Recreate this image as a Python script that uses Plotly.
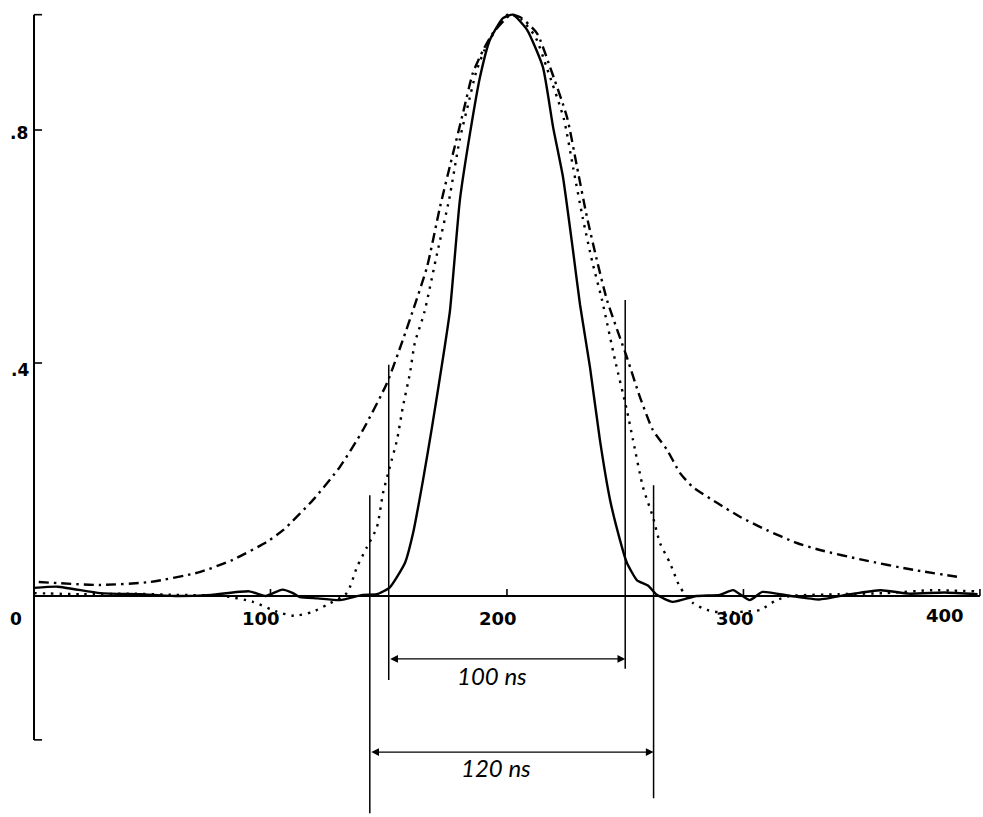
import plotly.graph_objects as go

# Time axis in ns, amplitude normalised to the peak
t_solid = [0, 10, 28, 45, 60, 75, 91, 98, 105, 109.5, 112.5, 120, 129.4, 139, 145,
           150.5, 156.9, 160.3, 164.5, 168.3, 173, 175.9, 180.1, 184.4, 188.6, 192.8,
           198.3, 202.5, 208.5, 215.2, 219.5, 223.7, 227.9, 230.9, 235.1, 239.3, 243.6,
           247.8, 250.7, 255, 259.6, 263.4, 270, 280, 290, 295.6, 302.7, 308, 320, 332,
           345, 358, 370, 385, 399]
v_solid = [0.014, 0.016, 0.005, 0.003, 0.0, 0.002, 0.008, 0.0, 0.011, 0.005, -0.002,
           -0.004, -0.007, 0.002, 0.003, 0.015, 0.057, 0.108, 0.199, 0.29, 0.41, 0.49,
           0.68, 0.795, 0.891, 0.955, 0.992, 0.998, 0.972, 0.908, 0.805, 0.719, 0.594,
           0.5, 0.393, 0.268, 0.165, 0.096, 0.057, 0.027, 0.018, 0.002, -0.01, 0.0,
           0.002, 0.01, -0.007, 0.007, 0.0, -0.006, 0.003, 0.01, 0.004, 0.006, 0.003]

t_dot = [0, 20, 40, 60, 80, 92.6, 102.7, 110, 118, 123.9, 132.3, 136.6, 140.8, 145,
         147.6, 150.5, 153.5, 156, 159, 161, 165, 170.5, 175.5, 180, 184, 187,
         190.5, 196, 201, 206, 212, 217, 224, 228, 232, 236, 240.2, 245.7, 250.7,
         253.3, 257.5, 261.7, 264.7, 268.9, 273.2, 278.6, 284.6, 290, 300, 307, 314,
         320, 340, 360, 380, 398]
v_dot = [0.005, 0.003, 0.004, 0.002, 0.0, -0.01, -0.027, -0.034, -0.027, -0.015, 0.005,
         0.05, 0.084, 0.118, 0.177, 0.222, 0.268, 0.325, 0.383, 0.434, 0.486, 0.589,
         0.68, 0.783, 0.851, 0.9, 0.937, 0.977, 1.0, 0.99, 0.96, 0.905, 0.82, 0.735,
         0.65, 0.575, 0.508, 0.405, 0.319, 0.268, 0.187, 0.136, 0.091, 0.057, 0.015,
         -0.012, -0.024, -0.028, -0.027, -0.024, -0.007, 0.0, 0.003, 0.005, 0.01, 0.008]

t_dd = [2, 28, 49, 70, 84, 98.5, 105.3, 118, 129.4, 139.1, 149.3, 156, 160.3, 166.2,
        171.7, 177.2, 181.4, 185.6, 189.9, 194, 201.3, 205.5, 212.7, 218.2, 225.4,
        229.6, 233.8, 238, 242.3, 250.7, 256.2, 261.7, 267.7, 273.2, 278.6, 288.8,
        298.5, 309.9, 322.6, 332.3, 350.5, 371.7, 390.3]
v_dd = [0.024, 0.019, 0.024, 0.041, 0.062, 0.093, 0.113, 0.165, 0.222, 0.285, 0.366,
        0.44, 0.491, 0.565, 0.668, 0.76, 0.829, 0.898, 0.937, 0.966, 0.997, 0.994,
        0.966, 0.908, 0.822, 0.737, 0.651, 0.577, 0.508, 0.41, 0.342, 0.285, 0.251,
        0.211, 0.187, 0.16, 0.136, 0.113, 0.091, 0.079, 0.062, 0.045, 0.033]

x_ticks = [100, 200, 300, 400]
x_tick_labels = ["100", "200", "300", "400"]
y_ticks = [0.8, 0.4, 0.0]
y_tick_labels = [".8", ".4", "0"]

# Pulse widths marked below the baseline: (start, width in ns)
widths = [(150, 100), (142, 120)]

INK = "black"

fig = go.Figure()
fig.add_trace(go.Scatter(x=t_dd, y=v_dd, mode="lines", line_shape="spline",
                         line=dict(color=INK, width=2.4, dash="10px,5px,2.5px,5px", smoothing=0.6)))
fig.add_trace(go.Scatter(x=t_dot, y=v_dot, mode="lines", line_shape="spline",
                         line=dict(color=INK, width=2.4, dash="2.4px,6px", smoothing=0.6)))
fig.add_trace(go.Scatter(x=t_solid, y=v_solid, mode="lines", line_shape="spline",
                         line=dict(color=INK, width=2.4, smoothing=0.5)))

shapes = []
# axes
shapes.append(dict(type="line", x0=0, x1=400, y0=0, y1=0, line=dict(color=INK, width=2)))
shapes.append(dict(type="line", x0=0, x1=0, y0=-0.247, y1=0.998, line=dict(color=INK, width=2)))
for yy in [0.998, -0.247] + y_ticks[:2]:
    shapes.append(dict(type="line", x0=0, x1=3.4, y0=yy, y1=yy, line=dict(color=INK, width=1.6)))
for xx in x_ticks:
    shapes.append(dict(type="line", x0=xx, x1=xx, y0=0, y1=0.012, line=dict(color=INK, width=1.6)))

# width markers
ext = {100: [(0.397, -0.144), (0.508, -0.125)], 120: [(0.173, -0.373), (0.19, -0.347)]}
arrow_y = {100: -0.108, 120: -0.268}
label_y = {100: -0.136, 120: -0.295}
annotations = []
for start, w in widths:
    (a0, a1), (b0, b1) = ext[w]
    shapes.append(dict(type="line", x0=start, x1=start, y0=a0, y1=a1, line=dict(color=INK, width=1.5)))
    shapes.append(dict(type="line", x0=start + w, x1=start + w, y0=b0, y1=b1, line=dict(color=INK, width=1.5)))
    annotations.append(dict(x=start + w, y=arrow_y[w], ax=start, ay=arrow_y[w],
                            xref="x", yref="y", axref="x", ayref="y", text="",
                            showarrow=True, arrowhead=2, arrowside="end+start",
                            arrowsize=1.1, arrowwidth=1.4, arrowcolor=INK, standoff=0,
                            startstandoff=0))
    annotations.append(dict(x=start + w / 2 - 6.5, y=label_y[w], xref="x", yref="y",
                            text=f"<i>{w} ns</i>", showarrow=False,
                            font=dict(family="Lato", size=24, color=INK)))

# tick labels
x_label_pos = {100: (96, -0.038), 200: (196.2, -0.038), 300: (296.4, -0.039), 400: (385.2, -0.034)}
for v, s in zip(x_ticks, x_tick_labels):
    px, py = x_label_pos[v]
    annotations.append(dict(x=px, y=py, xref="x", yref="y", text=f"<b>{s}</b>", showarrow=False,
                            font=dict(family="DejaVu Sans", size=18, color=INK)))
y_label_pos = {0.8: (-6.3, 0.795), 0.4: (-5.9, 0.388), 0.0: (-7.6, -0.039)}
for v, s in zip(y_ticks, y_tick_labels):
    px, py = y_label_pos[v]
    annotations.append(dict(x=px, y=py, xref="x", yref="y", text=f"<b>{s}</b>", showarrow=False,
                            font=dict(family="DejaVu Sans", size=17, color=INK)))

fig.update_layout(
    width=983, height=817,
    margin=dict(l=0, r=0, t=0, b=0),
    paper_bgcolor="white", plot_bgcolor="white",
    showlegend=False,
    xaxis=dict(range=[-14.38, 401.3], visible=False),
    yaxis=dict(range=[-0.3794, 1.0232], visible=False),
    shapes=shapes, annotations=annotations,
)

fig.write_html("out.html")
